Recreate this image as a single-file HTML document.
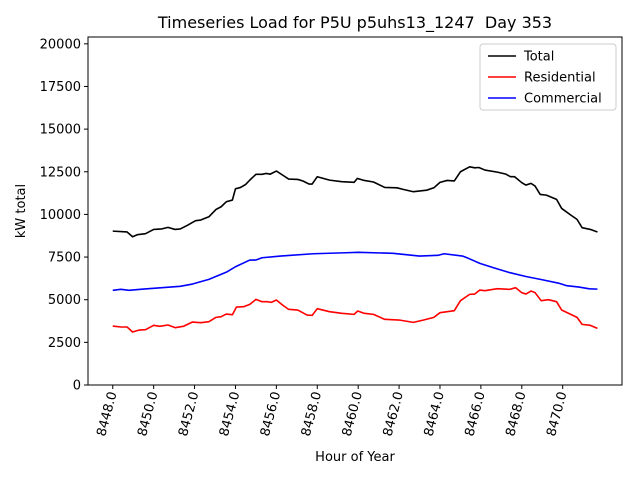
<!DOCTYPE html>
<html><head><meta charset="utf-8"><style>
html,body{margin:0;padding:0;background:#fff}
svg{display:block;font-family:"DejaVu Sans","Liberation Sans",sans-serif}
#chart text{white-space:pre}
</style></head><body>
<svg id="chart" width="640" height="480" viewBox="0 0 640 480" xmlns="http://www.w3.org/2000/svg"></svg>
<script>
const totalHours=[0,0.7,0.97,1.2,1.6,2,2.4,2.7,3.05,3.3,3.65,4.05,4.3,4.7,5.05,5.3,5.55,5.85,6.0,6.25,6.5,6.7,7.0,7.3,7.5,7.7,8.0,8.3,8.6,9.05,9.3,9.6,9.75,10.0,10.6,11.2,11.8,11.96,12.3,12.75,13.3,13.9,14.2,14.7,15.35,15.7,16.0,16.35,16.7,17.0,17.45,17.7,17.9,18.2,18.8,19.2,19.45,19.65,20.0,20.2,20.45,20.65,20.9,21.2,21.7,21.95,22.4,22.7,22.95,23.35,23.7];
const totalValues=[9020,8970,8690,8810,8870,9120,9150,9240,9120,9150,9360,9630,9670,9860,10290,10450,10740,10840,11500,11580,11760,12010,12350,12350,12400,12360,12540,12310,12070,12050,11960,11780,11780,12210,12010,11920,11880,12110,11990,11900,11580,11560,11470,11330,11420,11560,11880,11990,11960,12500,12790,12730,12750,12600,12480,12370,12210,12210,11860,11720,11820,11660,11170,11130,10880,10350,9960,9710,9220,9120,8970];
const resHours=[0,0.4,0.7,0.97,1.3,1.6,2,2.3,2.7,3.05,3.45,3.9,4.3,4.7,5.05,5.3,5.55,5.85,6.05,6.4,6.7,7.0,7.3,7.55,7.75,8.0,8.3,8.6,9.05,9.5,9.75,10.0,10.6,11.2,11.8,11.98,12.3,12.75,13.3,14.0,14.7,15.2,15.7,16.0,16.7,17.0,17.45,17.7,17.95,18.2,18.8,19.4,19.7,20.0,20.2,20.45,20.65,20.95,21.3,21.7,21.95,22.7,22.95,23.35,23.7];
const resValues=[3457,3400,3400,3106,3223,3243,3497,3438,3516,3360,3438,3692,3653,3711,3965,4004,4160,4121,4570,4590,4727,5020,4883,4883,4844,4981,4688,4434,4395,4102,4082,4473,4297,4200,4141,4336,4200,4141,3848,3809,3672,3809,3965,4239,4356,4942,5313,5333,5567,5528,5645,5606,5704,5411,5333,5509,5411,4942,5001,4883,4395,3965,3555,3497,3321];
const comHours=[0,0.4,0.8,1.5,2.4,3.3,3.9,4.7,5.6,6.0,6.7,7.0,7.3,8.2,9.8,11.4,12.0,13.7,15.0,15.9,16.2,17.1,17.4,17.95,18.6,19.4,20.2,21.0,21.8,22.2,22.8,23.3,23.7];
const comValues=[5549,5608,5549,5626,5702,5784,5919,6194,6640,6932,7325,7325,7460,7560,7694,7753,7776,7720,7560,7600,7694,7560,7420,7130,6880,6590,6360,6170,5970,5820,5740,5640,5620];
const baseHour=8448;
const yTicks=[0,2500,5000,7500,10000,12500,15000,17500,20000];
const xTicks=[8448,8450,8452,8454,8456,8458,8460,8462,8464,8466,8468,8470];

const svg=document.getElementById('chart');
const NS='http://www.w3.org/2000/svg';
const L=88,R=622,T=37,B=385;
const xMin=8446.79,xMax=8472.9,yMin=0,yMax=20400;
function xs(h){return L+(h-xMin)/(xMax-xMin)*(R-L);}
function ys(v){return B-(v-yMin)/(yMax-yMin)*(B-T);}
function mk(tag,attrs,parent){const e=document.createElementNS(NS,tag);for(const k in attrs)e.setAttribute(k,attrs[k]);(parent||svg).appendChild(e);return e;}

const title=mk('text',{x:355,y:28,'text-anchor':'middle','font-size':'16','xml:space':'preserve'});


title.textContent='Timeseries Load for P5U p5uhs13_1247  Day 353';

const frame=mk('rect',{x:L,y:T,width:R-L,height:B-T,fill:'none',stroke:'#000','stroke-width':1});



yTicks.forEach(v=>{
  const y=ys(v);
  const t=mk('line',{x1:L-4,x2:L,y1:y,y2:y,stroke:'#000'});
  
  
  const lb=mk('text',{x:L-7,y:y+4.5,'text-anchor':'end','font-size':'13'});
  
  
  lb.textContent=v;
});
xTicks.forEach(h=>{
  const x=xs(h);
  const t=mk('line',{x1:x,x2:x,y1:B,y2:B+4,stroke:'#000'});
  
  
  const lb=mk('text',{x:x+4,y:B+8,'text-anchor':'end','font-size':'13',transform:`rotate(-75 ${x+4} ${B+8})`});
  
  
  lb.textContent=h.toFixed(1);
});
const xl=mk('text',{x:355,y:461,'text-anchor':'middle','font-size':'13'});


xl.textContent='Hour of Year';
const yl=mk('text',{x:25,y:211,'text-anchor':'middle','font-size':'13',transform:'rotate(-90 25 211)'});


yl.textContent='kW total';

function line(hours,vals,color,name){
  const d=hours.map((h,i)=>(i?'L':'M')+xs(baseHour+h).toFixed(2)+','+ys(vals[i]).toFixed(2)).join(' ');
  const p=mk('path',{d:d,fill:'none',stroke:color,'stroke-width':1.6,'stroke-linejoin':'round'});
  
  
}
line(totalHours,totalValues,'#000','total-line');
line(resHours,resValues,'#ff0000','residential-line');
line(comHours,comValues,'#0000ff','commercial-line');

const lg=mk('g',{});


mk('rect',{x:480,y:44,width:136,height:66,rx:3,fill:'#fff','fill-opacity':0.8,stroke:'#ccc'},lg);
[['Total','#000'],['Residential','#ff0000'],['Commercial','#0000ff']].forEach((e,i)=>{
  const y=56+i*21;
  const g=mk('g',{},lg);
  
  
  mk('line',{x1:488,x2:516,y1:y,y2:y,stroke:e[1],'stroke-width':1.6},g);
  const t=mk('text',{x:524,y:y+4.5,'font-size':'13'},g);
  t.textContent=e[0];
});
</script>
</body></html>
